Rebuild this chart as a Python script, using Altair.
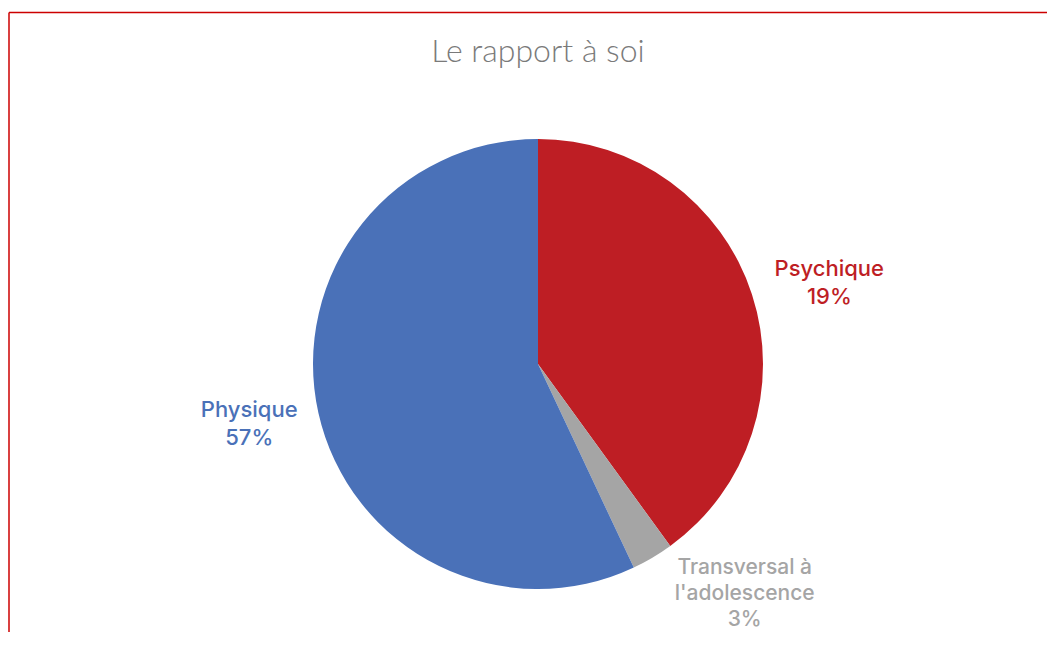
import altair as alt
import pandas as pd

categories = ["Psychique", "Transversal à l'adolescence", "Physique"]
shares = [40, 3, 57]
label_texts = ["Psychique\n19%", "Transversal à\nl'adolescence\n3%", "Physique\n57%"]
colors = ["#BE1E24", "#A5A5A5", "#4A71B8"]
order = [1, 2, 3]
title_text = "Le rapport à soi"

df = pd.DataFrame({"cat": categories, "share": shares, "label": label_texts, "ord": order})

W, H = 1039, 624
CX, CY, R = 530, 356, 225
LABEL_FONT = "Inter"

color_scale = alt.Scale(domain=categories, range=colors)
theta_scale = alt.Scale(domain=[0, sum(shares)])

base = alt.Chart(df)

pie = base.mark_arc(radius=R).encode(
    theta=alt.Theta("share:Q", stack=True, scale=theta_scale),
    order=alt.Order("ord:Q"),
    color=alt.Color("cat:N", scale=color_scale, legend=None),
    x=alt.value(CX),
    y=alt.value(CY),
)

lab_base = base.transform_window(
    cum="sum(share)", sort=[alt.SortField("ord")]
).transform_calculate(mid="datum.cum - datum.share / 2")


def label(cat, dx, dy, lh=28, size=22):
    return lab_base.transform_filter(alt.datum.cat == cat).mark_text(
        radius=300, dx=dx, dy=dy, fontSize=size, lineBreak="\n", lineHeight=lh,
        font=LABEL_FONT, fontWeight=500, align="center", baseline="middle",
    ).encode(
        theta=alt.Theta("mid:Q", stack=False, scale=theta_scale),
        text="label:N",
        color=alt.Color("cat:N", scale=color_scale, legend=None),
        x=alt.value(CX),
        y=alt.value(CY),
    )


labels = [
    label("Psychique", 6, -2),
    label("Transversal à l'adolescence", 54, -54, lh=26, size=21),
    label("Physique", 4, -19),
]

blank = alt.Chart(alt.Data(values=[{}]))
title = blank.mark_text(
    text=title_text, font="Lato", fontWeight=300, fontSize=32, color="#7A7A7A",
    align="center", baseline="alphabetic",
).encode(x=alt.value(CX), y=alt.value(54))

top_border = blank.mark_rule(color="#CC0000", strokeWidth=1.5).encode(
    x=alt.value(1), x2=alt.value(W), y=alt.value(4.5), y2=alt.value(4.5)
)
left_border = blank.mark_rule(color="#CC0000", strokeWidth=1.5).encode(
    x=alt.value(1), x2=alt.value(1), y=alt.value(4.5), y2=alt.value(H)
)

chart = alt.layer(top_border, left_border, pie, *labels, title).properties(
    width=W, height=H, padding=0, background="white",
    autosize=alt.AutoSizeParams(type="none"),
).configure_view(stroke=None)

chart.save("out.html", embed_options={"renderer": "svg", "actions": False})
